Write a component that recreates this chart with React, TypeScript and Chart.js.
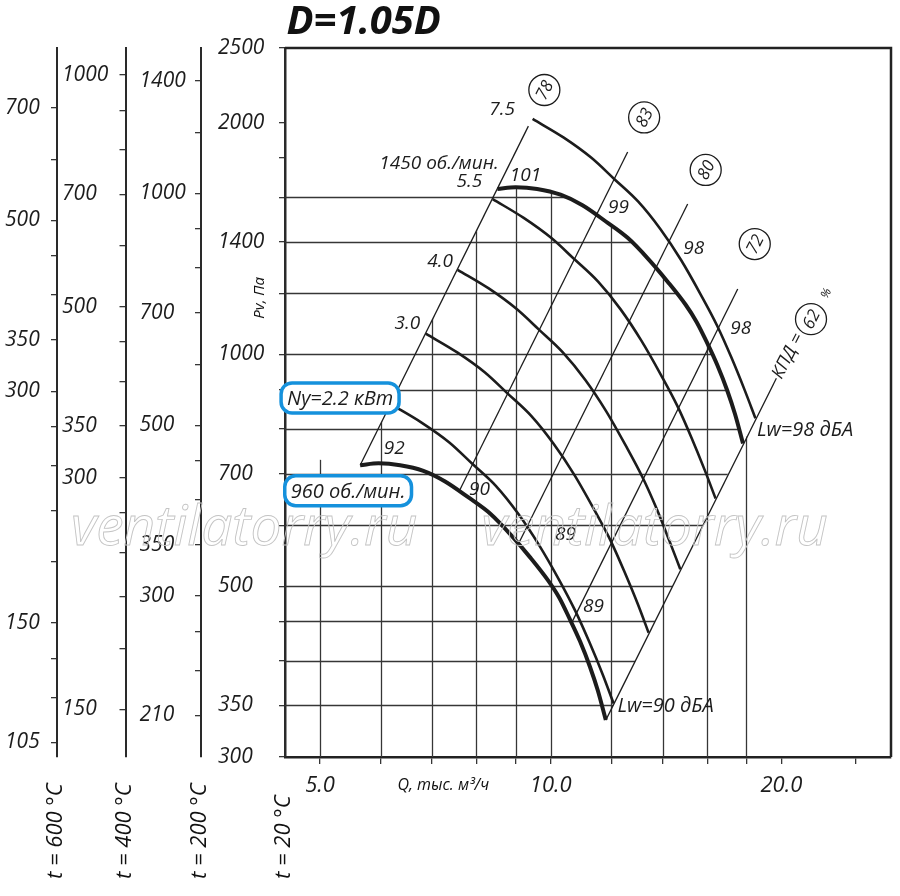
import React, { useEffect, useRef } from 'react';
import { Chart, registerables } from 'chart.js';

Chart.register(...registerables);

const FONT = '"Open Sans", "Liberation Sans", "DejaVu Sans", sans-serif';
const INK = '#1c1c1c';
const GRID = '#363636';
const BLUE = '#1591dc';

// ---------- axes ----------
const qRange = [4.5, 27.8];
const qTicks = [5, 6, 7, 8, 9, 10, 12, 14, 16, 18, 20, 25];
const qLabeled = [5, 10, 20];
const pRange = [300, 2500];
const pTicks = [300, 350, 400, 450, 500, 600, 700, 800, 900, 1000, 1200, 1400, 1600, 1800, 2000, 2500];
const pLabeled = [300, 350, 500, 700, 1000, 1400, 2000, 2500];
const t200Range = [185.4, 1545];
const t200Ticks = [210, 240, 270, 300, 350, 400, 450, 500, 600, 700, 800, 900, 1000, 1200, 1400];
const t200Labeled = [210, 300, 350, 500, 700, 1000, 1400];
const t400Range = [130.1, 1083.8];
const t400Ticks = [150, 180, 210, 240, 270, 300, 350, 400, 450, 500, 600, 700, 800, 900, 1000];
const t400Labeled = [150, 300, 350, 500, 700, 1000];
const t600Range = [100.5, 837.5];
const t600Ticks = [105, 120, 135, 150, 180, 210, 240, 270, 300, 350, 400, 450, 500, 600, 700];
const t600Labeled = [105, 150, 300, 350, 500, 700];

// grid values (drawn only inside the working field)
const gridP = [350, 400, 450, 500, 600, 700, 800, 900, 1000, 1200, 1400, 1600, 1800, 2000];
const gridQ = [5, 6, 7, 8, 9, 10, 12, 14, 16, 18, 20, 25];

// ---------- curves: Q, тыс. м3/ч  and  Pv, Па ----------
const n1450Q = [8.52, 9.0, 9.6, 10.3, 11.0, 11.8, 12.6, 13.4, 14.2, 15.0, 15.5, 16.0, 16.5, 17.0, 17.4, 17.82];
const n1450P = [1640, 1648, 1640, 1612, 1562, 1488, 1417, 1331, 1244, 1160, 1102, 1035, 968, 897, 836, 766];
const n960Q = [5.64, 5.96, 6.36, 6.82, 7.28, 7.81, 8.34, 8.87, 9.40, 9.93, 10.26, 10.59, 10.92, 11.25, 11.52, 11.80];
const n960P = [718, 722, 718, 706, 684, 652, 621, 583, 545, 508, 483, 453, 424, 393, 366, 335];

const kw75Q = [9.47, 10.4, 11.3, 12.1, 13.0, 13.9, 14.8, 15.7, 16.5, 17.2, 17.9, 18.5];
const kw75P = [2022, 1912, 1800, 1690, 1580, 1455, 1325, 1195, 1088, 992, 900, 826];
const kw55Q = [8.40, 9.22, 10.02, 10.73, 11.53, 12.33, 13.13, 13.93, 14.64, 15.26, 15.88, 16.41];
const kw55P = [1591, 1504, 1416, 1330, 1243, 1145, 1042, 940, 856, 780, 708, 650];
const kw40Q = [7.56, 8.30, 9.02, 9.66, 10.37, 11.09, 11.81, 12.53, 13.17, 13.73, 14.28, 14.76];
const kw40P = [1288, 1218, 1146, 1076, 1006, 927, 844, 761, 693, 632, 573, 526];
const kw30Q = [6.87, 7.55, 8.20, 8.78, 9.43, 10.08, 10.74, 11.39, 11.97, 12.48, 12.99, 13.42];
const kw30P = [1064, 1006, 948, 890, 832, 766, 697, 629, 573, 522, 474, 435];
const kw22Q = [6.18, 6.79, 7.38, 7.90, 8.49, 9.08, 9.66, 10.25, 10.77, 11.23, 11.69, 12.08];
const kw22P = [862, 815, 768, 721, 674, 620, 565, 510, 464, 423, 384, 352];

// efficiency rays (P ~ Q^2)
const ray78Q = [5.64, 9.35];
const ray78P = [718, 1979];
const ray83Q = [7.6, 12.6];
const ray83P = [665, 1832];
const ray80Q = [9.08, 15.09];
const ray80P = [568, 1568];
const ray72Q = [10.66, 17.54];
const ray72P = [449, 1216];
const ray62Q = [11.80, 19.7];
const ray62P = [335, 931];

// clip-region corners for the grid
const hClipStartQ = [4.5, 11.18];
const hClipStartP = [300, 300];
const hClipEndQ = [8.44, 4.5];
const hClipEndP = [1610, 1610];
const vClipStartQ = [4.5, 19.5, 19.5];
const vClipStartP = [300, 300, 912];
const vClipEndQ = [5.64, 4.5];
const vClipEndP = [718, 740];

// ---------- labels ----------
const plainLabels = [
  { text: '7.5', q: 8.64, p: 2077 },
  { text: '1450 об./мин.', q: 7.15, p: 1767 },
  { text: '5.5', q: 7.83, p: 1675 },
  { text: '4.0', q: 7.17, p: 1318 },
  { text: '3.0', q: 6.5, p: 1095 },
  { text: '101', q: 9.27, p: 1705 },
  { text: '99', q: 12.26, p: 1549 },
  { text: '98', q: 15.37, p: 1371 },
  { text: '98', q: 17.7, p: 1079 },
  { text: '92', q: 6.25, p: 755 },
  { text: '90', q: 8.07, p: 667 },
  { text: '89', q: 10.45, p: 584 },
  { text: '89', q: 11.37, p: 470 },
];
const lwLabels = [
  { text: 'Lw=98 дБА', q: 18.58, p: 798 },
  { text: 'Lw=90 дБА', q: 12.22, p: 348.6 },
];
const boxedLabels = [
  { text: 'Ny=2.2 кВт', q: 5.31, p: 878 },
  { text: '960 об./мин.', q: 5.44, p: 665 },
];
const circledLabels = [
  { text: '78', q: 9.81, p: 2205 },
  { text: '83', q: 13.24, p: 2031 },
  { text: '80', q: 15.93, p: 1736 },
  { text: '72', q: 18.46, p: 1391 },
  { text: '62', q: 21.86, p: 1111 },
];
const kpdLabel = { text: 'КПД =', q: 20.4, p: 995 };
const pctLabel = { text: '%', q: 22.9, p: 1200 };
const watermarks = [
  { text: 'ventilatorry.ru', q: 3.98, p: 566 },
  { text: 'ventilatorry.ru', q: 13.67, p: 566 },
];
const titleText = 'D=1.05D';
const titleQ = 5.7;
const pAxisTitle = { text: 'Pv, Па', p: 1184 };
const qAxisTitle = { text: 'Q, тыс. м³/ч', q: 7.24 };
const tempTitles = [
  { text: 't = 600 °C', axis: 't600' },
  { text: 't = 400 °C', axis: 't400' },
  { text: 't = 200 °C', axis: 't200' },
  { text: 't = 20 °C', axis: 'y' },
];

const pts = (qs: number[], ps: number[]) => qs.map((q, i) => ({ x: q, y: ps[i] }));

function rrect(ctx: CanvasRenderingContext2D, x: number, y: number, w: number, h: number, r: number) {
  ctx.beginPath();
  ctx.moveTo(x + r, y);
  ctx.arcTo(x + w, y, x + w, y + h, r);
  ctx.arcTo(x + w, y + h, x, y + h, r);
  ctx.arcTo(x, y + h, x, y, r);
  ctx.arcTo(x, y, x + w, y, r);
  ctx.closePath();
}

const gridPlugin = {
  id: 'clippedGrid',
  beforeDatasetsDraw(chart: any) {
    const { ctx, chartArea, scales } = chart;
    const x = scales.x, y = scales.y;
    const px = (q: number) => x.getPixelForValue(q);
    const py = (p: number) => y.getPixelForValue(p);
    const revQ = [...n1450Q].reverse();
    const revP = [...n1450P].reverse();
    const poly = (q: number[], p: number[]) => {
      ctx.beginPath();
      q.forEach((v, i) => (i ? ctx.lineTo(px(v), py(p[i])) : ctx.moveTo(px(v), py(p[i]))));
      ctx.closePath();
      ctx.clip();
    };
    ctx.save();
    ctx.strokeStyle = GRID;
    ctx.lineWidth = 1.3;
    ctx.save();
    poly([...hClipStartQ, ...revQ, ...hClipEndQ], [...hClipStartP, ...revP, ...hClipEndP]);
    ctx.beginPath();
    gridP.forEach((p) => {
      const yy = Math.round(py(p)) + 0.5;
      ctx.moveTo(chartArea.left, yy);
      ctx.lineTo(chartArea.right, yy);
    });
    ctx.stroke();
    ctx.restore();
    ctx.save();
    poly([...vClipStartQ, ...revQ, ...vClipEndQ], [...vClipStartP, ...revP, ...vClipEndP]);
    ctx.beginPath();
    gridQ.forEach((q) => {
      const xx = Math.round(px(q)) + 0.5;
      ctx.moveTo(xx, chartArea.top);
      ctx.lineTo(xx, chartArea.bottom);
    });
    ctx.stroke();
    ctx.restore();
    ctx.restore();
  },
};

const labelShiftPlugin = {
  id: 'labelShift',
  afterLayout(chart: any) {
    const s = chart.scales;
    s.t600.left += 5;
    s.t400.left += 5;
    s.t200.left += 14;
    s.y.left += 17;
  },
};

const watermarkPlugin = {
  id: 'watermark',
  afterDraw(chart: any) {
    const { ctx, scales } = chart;
    const x = scales.x, y = scales.y;
    ctx.save();
    ctx.font = `italic 55px ${FONT}`;
    ctx.textAlign = 'center';
    ctx.textBaseline = 'alphabetic';
    ctx.lineWidth = 0.9;
    ctx.strokeStyle = '#c4c4c4';
    watermarks.forEach((w) => {
      ctx.strokeText(w.text, x.getPixelForValue(w.q), y.getPixelForValue(w.p));
    });
    ctx.restore();
  },
};

const annotPlugin = {
  id: 'annot',
  afterDatasetsDraw(chart: any) {
    const { ctx, scales } = chart;
    const x = scales.x, y = scales.y;
    const px = (q: number) => x.getPixelForValue(q);
    const py = (p: number) => y.getPixelForValue(p);
    ctx.save();
    ctx.fillStyle = INK;
    ctx.textAlign = 'center';
    ctx.textBaseline = 'middle';
    ctx.font = `italic 19px ${FONT}`;
    plainLabels.forEach((l) => ctx.fillText(l.text, px(l.q), py(l.p)));
    ctx.font = `italic 20px ${FONT}`;
    ctx.textAlign = 'left';
    lwLabels.forEach((l) => ctx.fillText(l.text, px(l.q), py(l.p)));
    // boxed
    ctx.textAlign = 'center';
    boxedLabels.forEach((l) => {
      const cx = px(l.q), cy = py(l.p);
      const w = ctx.measureText(l.text).width + 12;
      const h = 30;
      rrect(ctx, cx - w / 2, cy - h / 2, w, h, 11);
      ctx.fillStyle = '#fff';
      ctx.fill();
      ctx.lineWidth = 3.5;
      ctx.strokeStyle = BLUE;
      ctx.stroke();
      ctx.fillStyle = INK;
      ctx.fillText(l.text, cx, cy + 1);
    });
    // circled efficiencies
    const ang = (-63 * Math.PI) / 180;
    circledLabels.forEach((l) => {
      const cx = px(l.q), cy = py(l.p);
      ctx.beginPath();
      ctx.arc(cx, cy, 15.5, 0, Math.PI * 2);
      ctx.fillStyle = '#fff';
      ctx.fill();
      ctx.lineWidth = 1.3;
      ctx.strokeStyle = INK;
      ctx.stroke();
      ctx.save();
      ctx.translate(cx, cy);
      ctx.rotate(ang);
      ctx.fillStyle = INK;
      ctx.font = `italic 17px ${FONT}`;
      ctx.fillText(l.text, 0, 1);
      ctx.restore();
    });
    ctx.save();
    ctx.translate(px(kpdLabel.q), py(kpdLabel.p));
    ctx.rotate(ang);
    ctx.font = `italic 18px ${FONT}`;
    ctx.fillStyle = INK;
    ctx.fillText(kpdLabel.text, 0, 0);
    ctx.restore();
    ctx.save();
    ctx.translate(px(pctLabel.q), py(pctLabel.p));
    ctx.rotate(ang);
    ctx.font = `italic 12px ${FONT}`;
    ctx.fillStyle = INK;
    ctx.fillText(pctLabel.text, 0, 0);
    ctx.restore();
    ctx.restore();
  },
  afterDraw(chart: any) {
    const { ctx, chartArea, scales } = chart;
    const x = scales.x, y = scales.y;
    const px = (q: number) => x.getPixelForValue(q);
    const py = (p: number) => y.getPixelForValue(p);
    ctx.save();
    // top & right frame
    ctx.strokeStyle = '#222';
    ctx.lineWidth = 2.5;
    ctx.beginPath();
    ctx.moveTo(chartArea.left, chartArea.top);
    ctx.lineTo(chartArea.right, chartArea.top);
    ctx.lineTo(chartArea.right, chartArea.bottom);
    ctx.stroke();
    // title
    ctx.fillStyle = '#111';
    ctx.textAlign = 'center';
    ctx.textBaseline = 'middle';
    ctx.font = `italic bold 40px ${FONT}`;
    ctx.fillText(titleText, px(titleQ), chartArea.top - 25);
    // axis titles
    ctx.font = `italic 16px ${FONT}`;
    ctx.fillText(qAxisTitle.text, px(qAxisTitle.q), chartArea.bottom + 28);
    ctx.save();
    ctx.translate(chartArea.left - 25, py(pAxisTitle.p));
    ctx.rotate(-Math.PI / 2);
    ctx.font = `italic 15px ${FONT}`;
    ctx.fillText(pAxisTitle.text, 0, 0);
    ctx.restore();
    ctx.font = `italic 22px ${FONT}`;
    ctx.textAlign = 'left';
    tempTitles.forEach((t) => {
      const sc = scales[t.axis];
      ctx.save();
      ctx.translate(sc.right - 1, chart.height - 17);
      ctx.rotate(-Math.PI / 2);
      ctx.fillText(t.text, 0, 0);
      ctx.restore();
    });
    ctx.restore();
  },
};

function sideAxis(range: number[], ticks: number[], labeled: number[], weight: number, width: number) {
  return {
    type: 'logarithmic',
    position: 'left',
    weight,
    min: range[0],
    max: range[1],
    afterBuildTicks: (s: any) => {
      s.ticks = ticks.map((v) => ({ value: v }));
    },
    afterFit: (s: any) => {
      s.width = width;
    },
    ticks: {
      autoSkip: false,
      crossAlign: 'far',
      color: INK,
      font: { family: FONT, size: 21, style: 'italic' },
      callback: (v: number) => (labeled.includes(v) ? String(v) : ''),
    },
    grid: { drawOnChartArea: false, drawTicks: true, tickLength: 6, color: GRID, lineWidth: 1.3 },
    border: { display: true, width: weight === 0 ? 2.5 : 2, color: '#2a2a2a' },
  };
}

export default function App() {
  const ref = useRef<HTMLCanvasElement>(null);
  useEffect(() => {
    if (!ref.current) return;
    Chart.defaults.font.family = FONT;
    const curve = (q: number[], p: number[], w: number) => ({
      data: pts(q, p),
      borderColor: INK,
      borderWidth: w,
      pointRadius: 0,
      fill: false,
      tension: 0.4,
      cubicInterpolationMode: 'monotone',
    });
    const ray = (q: number[], p: number[]) => ({
      data: pts(q, p),
      borderColor: INK,
      borderWidth: 1.3,
      pointRadius: 0,
      fill: false,
      tension: 0,
    });
    const chart = new Chart(ref.current, {
      type: 'line',
      data: {
        datasets: [
          ray(ray78Q, ray78P),
          ray(ray83Q, ray83P),
          ray(ray80Q, ray80P),
          ray(ray72Q, ray72P),
          ray(ray62Q, ray62P),
          curve(kw75Q, kw75P, 2.6),
          curve(kw55Q, kw55P, 2.6),
          curve(kw40Q, kw40P, 2.6),
          curve(kw30Q, kw30P, 2.6),
          curve(kw22Q, kw22P, 2.6),
          curve(n1450Q, n1450P, 4),
          curve(n960Q, n960P, 4),
        ] as any,
      },
      options: {
        animation: false,
        responsive: false,
        events: [],
        layout: { padding: { top: 48, right: 9, bottom: 99, left: 0 } },
        plugins: { legend: { display: false }, tooltip: { enabled: false } },
        scales: {
          x: {
            type: 'logarithmic',
            position: 'bottom',
            min: qRange[0],
            max: qRange[1],
            afterBuildTicks: (s: any) => {
              s.ticks = qTicks.map((v) => ({ value: v }));
            },
            afterFit: (s: any) => {
              s.height = 40;
            },
            ticks: {
              autoSkip: false,
              maxRotation: 0,
              minRotation: 0,
              padding: 9,
              color: INK,
              font: { family: FONT, size: 22, style: 'italic' },
              callback: (v: number) => (qLabeled.includes(v) ? v.toFixed(1) : ''),
            },
            grid: { drawOnChartArea: false, drawTicks: true, tickLength: 7, color: GRID, lineWidth: 1.3 },
            border: { display: true, width: 2.5, color: '#222' },
          },
          y: sideAxis(pRange, pTicks, pLabeled, 0, 84),
          t200: sideAxis(t200Range, t200Ticks, t200Labeled, 1, 75.5),
          t400: sideAxis(t400Range, t400Ticks, t400Labeled, 2, 68.5),
          t600: sideAxis(t600Range, t600Ticks, t600Labeled, 3, 57),
        } as any,
      },
      plugins: [labelShiftPlugin, gridPlugin, watermarkPlugin, annotPlugin],
    });
    return () => chart.destroy();
  }, []);
  return (
    <div style={{ position: 'absolute', left: 0, top: 0, width: 900, height: 896, background: '#fff' }}>
      <canvas ref={ref} width={900} height={896} style={{ width: 900, height: 896, display: 'block' }} />
    </div>
  );
}
